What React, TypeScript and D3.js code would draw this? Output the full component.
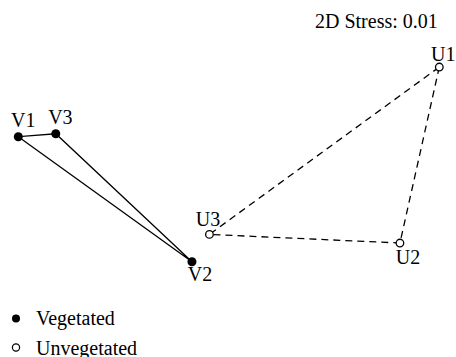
import * as d3 from 'd3';
import React from 'react';

// NMDS coordinates
const vegNames = ['V1', 'V2', 'V3'];
const vegX = [-1.0, -0.175, -0.822];
const vegY = [0.131, -0.463, 0.145];

const unvegNames = ['U1', 'U2', 'U3'];
const unvegX = [1.0, 0.813, -0.092];
const unvegY = [0.462, -0.374, -0.333];

const stressText = '2D Stress: 0.01';
const legendLabels = ['Vegetated', 'Unvegetated'];

// label placement relative to each point (center x, baseline y)
const labelOffset: Record<string, [number, number]> = {
  V1: [5, -10],
  V2: [8, 19.5],
  V3: [4.6, -9.7],
  U1: [4, -6],
  U2: [8, 20.5],
  U3: [-1.5, -8.5],
};

const W = 456;
const H = 357;
const font = '"Liberation Serif", "DejaVu Serif", serif';

export default function App() {
  const xScale = d3.scaleLinear().domain([-1, 1]).range([18.3, 439.3]);
  const yScale = d3.scaleLinear().domain([-0.5, 0.5]).range([269.55, 59.05]);

  const veg = vegNames.map((n, i) => ({ name: n, x: xScale(vegX[i]), y: yScale(vegY[i]) }));
  const unveg = unvegNames.map((n, i) => ({ name: n, x: xScale(unvegX[i]), y: yScale(unvegY[i]) }));

  const line = d3
    .line<{ x: number; y: number }>()
    .x((d) => d.x)
    .y((d) => d.y)
    .curve(d3.curveLinearClosed);

  return (
    <svg
      width={W}
      height={H}
      style={{ position: 'absolute', left: 0, top: 0, background: '#fff' }}
      fontFamily={font}
    >
      <path d={line(veg) || ''} fill="none" stroke="#000" strokeWidth={1.3} />
      <path
        d={line(unveg) || ''}
        fill="none"
        stroke="#000"
        strokeWidth={1.3}
        strokeDasharray="7,5"
      />
      {veg.map((d) => (
        <g key={d.name}>
          <circle cx={d.x} cy={d.y} r={4.5} fill="#000" />
          <text
            x={d.x + labelOffset[d.name][0]}
            y={d.y + labelOffset[d.name][1]}
            textAnchor="middle"
            fontSize={20}
          >
            {d.name}
          </text>
        </g>
      ))}
      {unveg.map((d) => (
        <g key={d.name}>
          <circle cx={d.x} cy={d.y} r={3.8} fill="#fff" stroke="#000" strokeWidth={1.3} />
          <text
            x={d.x + labelOffset[d.name][0]}
            y={d.y + labelOffset[d.name][1]}
            textAnchor="middle"
            fontSize={20}
          >
            {d.name}
          </text>
        </g>
      ))}
      <text x={315} y={28} fontSize={20}>
        {stressText}
      </text>
      <g>
        <circle cx={16} cy={318.5} r={4} fill="#000" />
        <text x={36} y={325} fontSize={20}>
          {legendLabels[0]}
        </text>
        <circle cx={16} cy={347.5} r={3.6} fill="#fff" stroke="#000" strokeWidth={1.2} />
        <text x={36} y={354.5} fontSize={20}>
          {legendLabels[1]}
        </text>
      </g>
    </svg>
  );
}
